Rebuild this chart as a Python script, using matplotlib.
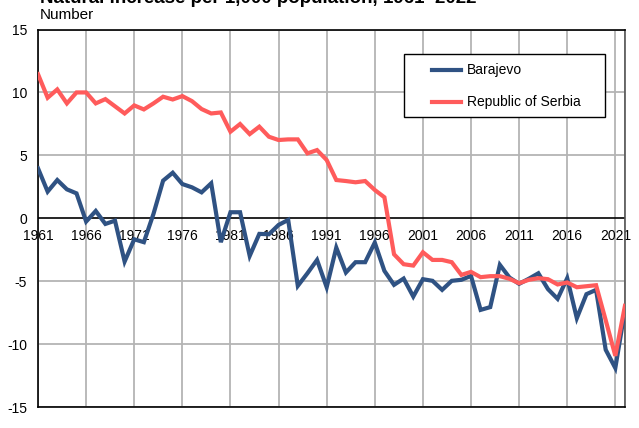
import matplotlib
matplotlib.use("Agg")
import matplotlib.pyplot as plt
from matplotlib.patches import Rectangle
from matplotlib.lines import Line2D

plt.rcParams['font.family'] = ['Liberation Sans', 'DejaVu Sans']
plt.rcParams['axes.unicode_minus'] = False

years = list(range(1961, 2023))

# natural increase per 1,000 population
barajevo = [3.97, 2.12, 3.04, 2.30, 1.98, -0.26, 0.58, -0.45, -0.19, -3.44,
            -1.67, -1.90, 0.35, 2.99, 3.62, 2.72, 2.46, 2.06, 2.78, -1.90,
            0.48, 0.48, -2.99, -1.24, -1.27, -0.53, -0.13, -5.37, -4.37, -3.31,
            -5.48, -2.33, -4.31, -3.49, -3.49, -1.93, -4.18, -5.29, -4.79, -6.22,
            -4.84, -4.97, -5.69, -4.97, -4.89, -4.58, -7.28, -7.06, -3.70, -4.71,
            -5.21, -4.81, -4.37, -5.63, -6.40, -4.76, -7.94, -6.03, -5.69, -10.45,
            -11.90, -7.28]
serbia = [11.45, 9.58, 10.24, 9.13, 10.0, 10.0, 9.13, 9.47, 8.90, 8.33,
          8.97, 8.65, 9.13, 9.66, 9.44, 9.71, 9.31, 8.68, 8.33, 8.41,
          6.88, 7.49, 6.69, 7.28, 6.48, 6.22, 6.27, 6.27, 5.16, 5.42,
          4.63, 3.04, 2.96, 2.86, 2.96, 2.25, 1.67, -2.86, -3.65, -3.76,
          -2.70, -3.31, -3.31, -3.49, -4.50, -4.26, -4.68, -4.60, -4.60, -4.81,
          -5.16, -4.89, -4.76, -4.84, -5.26, -5.10, -5.48, -5.40, -5.32, -8.10,
          -10.93, -6.96]

series_names = ["Barajevo", "Republic of Serbia"]
xticks = list(range(1961, 2022, 5))
yticks = [-15, -10, -5, 0, 5, 10, 15]

blue = "#2f5283"
red = "#ff5b5b"

fig = plt.figure(figsize=(6.39, 4.28), dpi=100)
ax = fig.add_axes([0.0595, 0.049, 0.9185, 0.882])

for x in xticks + [2022]:
    ax.axvline(x, color="#b4b4b4", lw=1.3, zorder=0)
for y in yticks:
    if y != 0:
        ax.axhline(y, color="#b4b4b4", lw=1.3, zorder=0)
ax.axhline(0, color="black", lw=1.2, zorder=1)

ax.plot(years, barajevo, color=blue, lw=3, zorder=3, solid_joinstyle="miter")
ax.plot(years, serbia, color=red, lw=3, zorder=3, solid_joinstyle="miter")

ax.set_xlim(1961, 2022)
ax.set_ylim(-15, 15)
ax.set_yticks(yticks)
ax.set_xticks([])
ax.tick_params(axis="y", length=0, pad=8, labelsize=10)

for x in xticks:
    ax.text(x, -0.85, str(x), ha="center", va="top", fontsize=10, zorder=2)

for s in ["left", "bottom", "top"]:
    ax.spines[s].set_color("black")
    ax.spines[s].set_linewidth(1.2)
ax.spines["right"].set_color("#555555")
ax.spines["right"].set_linewidth(1.2)

# legend box drawn by hand to match the padding of the original
ax.add_patch(Rectangle((0.6235, 0.768), 0.3425, 0.167, transform=ax.transAxes,
                       facecolor="white", edgecolor="black", lw=1.0, zorder=4))
for name, col, yy in zip(series_names, [blue, red], [0.8927, 0.808]):
    ax.add_line(Line2D([0.671, 0.7206], [yy, yy], transform=ax.transAxes,
                       color=col, lw=3, zorder=5))
    ax.text(0.7308, yy, name, transform=ax.transAxes, fontsize=10,
            va="center", ha="left", zorder=5)

fig.text(0.062, 0.992, "Natural increase per 1,000 population, 1961–2022",
         fontsize=13.5, fontweight="bold", va="baseline", ha="left")
fig.text(0.062, 0.966, "Number", fontsize=11, va="center", ha="left")

fig.savefig("out.png", dpi=100)
